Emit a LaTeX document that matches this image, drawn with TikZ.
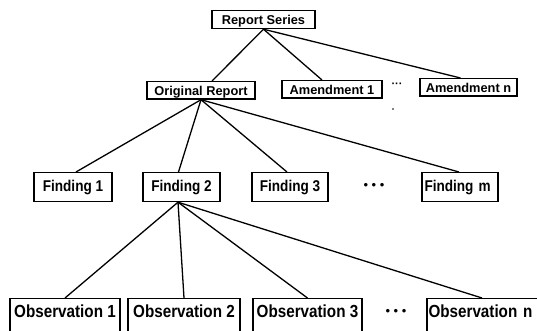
\documentclass[tikz,border=0pt]{standalone}
\usepackage{fontspec}
\newfontfamily\labA{Liberation Sans}
\newfontfamily\labB[FakeStretch=0.87]{Liberation Sans}
\begin{document}
\begin{tikzpicture}[x=1pt,y=-1pt,
  box/.style={draw, line width=1.2pt, inner xsep=0pt, inner ysep=0pt, anchor=north},
  toplvl/.style={box, font=\labA\bfseries\fontsize{12.8}{14}\selectfont, text height=13.5pt, text depth=4pt},
  fnd/.style={box, font=\labB\bfseries\fontsize{15.6}{17}\selectfont, text height=19pt, text depth=10pt},
  obs/.style={box, font=\labB\bfseries\fontsize{17.5}{19}\selectfont, text height=19pt, text depth=21pt},
  dotsm/.style={inner sep=0pt, font=\labA\bfseries\fontsize{11}{11}\selectfont},
  dotsb/.style={inner sep=0pt, font=\labA\fontsize{13}{13}\selectfont},
  link/.style={line width=1.3pt}]
\useasboundingbox (0,0) rectangle (537,331);
\clip (0,0) rectangle (537,331);
% top level
\node[toplvl, minimum width=103pt, text depth=4.5pt] (RS) at (263.5,10) {Report Series};
\node[toplvl, minimum width=108pt] (OR) at (201,81) {Original Report};
\node[toplvl, minimum width=100pt] (A1) at (332,80) {Amendment 1};
\node[toplvl, minimum width=97pt] (An) at (468.5,78) {Amendment n};
\node[dotsm] (d1) at (397,85) {···};
\fill (393,109) circle (0.9pt);
% findings
\node[fnd, minimum width=78pt] (F1) at (73,172) {Finding 1};
\node[fnd, minimum width=77pt] (F2) at (181.5,172) {Finding 2};
\node[fnd, minimum width=76pt] (F3) at (290,172) {Finding 3};
\node[dotsb] (d2) at (374,186) {• • •};
\node[fnd, minimum width=76pt, text width=71pt, inner xsep=2.5pt, align=left] (Fm) at (460,172) {Finding m};
% observations
\node[obs, minimum width=110pt] (O1) at (65,298) {Observation 1};
\node[obs, minimum width=112pt] (O2) at (184,298) {Observation 2};
\node[obs, minimum width=109pt] (O3) at (307.5,298) {Observation 3};
\node[dotsb] (d3) at (396,312) {• • •};
\node[obs, minimum width=120pt, text width=117pt, inner xsep=1.5pt, align=left] (On) at (487,298) {Observation n};
% connectors
\draw[link] (RS.south) -- ([xshift=11pt]OR.north);
\draw[link] (RS.south) -- ([xshift=-10pt]A1.north);
\draw[link] (RS.south) -- ([xshift=-8pt]An.north);
\draw[link] (OR.south) -- ([xshift=3pt]F1.north);
\draw[link] (OR.south) -- ([xshift=-3pt]F2.north);
\draw[link] (OR.south) -- ([xshift=-3pt]F3.north);
\draw[link] (OR.south) -- ([xshift=-1pt]Fm.north);
\draw[link] ([xshift=-3.5pt]F2.south) -- (O1.north);
\draw[link] ([xshift=-3.5pt]F2.south) -- (O2.north);
\draw[link] ([xshift=-3.5pt]F2.south) -- (O3.north);
\draw[link] ([xshift=-3.5pt]F2.south) -- ([xshift=-5pt]On.north);
\end{tikzpicture}
\end{document}
